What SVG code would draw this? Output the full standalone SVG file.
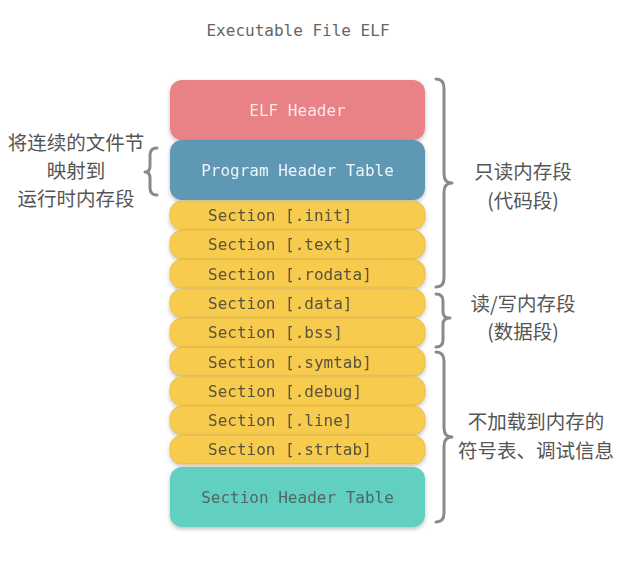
<svg xmlns="http://www.w3.org/2000/svg" width="629" height="562" viewBox="0 0 629 562">
<style>
.mono{font-family:"DejaVu Sans Mono","Liberation Mono",monospace;font-size:16px}
.cjk{font-family:"Noto Sans CJK SC","Noto Sans",sans-serif;font-size:19.5px;fill:#555;text-anchor:middle}
.sec rect{fill:#F7CB4D;stroke:#E9B73A;stroke-width:0.8}
.sec text{fill:#5a523e}
.brace{fill:none;stroke:#8a8a8a;stroke-width:3;stroke-linecap:round;stroke-linejoin:round}
</style>
<defs>
<filter id="sh" x="-10%" y="-20%" width="120%" height="150%">
<feDropShadow dx="0" dy="2" stdDeviation="2" flood-color="#000" flood-opacity="0.25"/>
</filter>
</defs>
<rect width="629" height="562" fill="#fff"/>
<text class="mono" x="298" y="36" text-anchor="middle" fill="#666">Executable File ELF</text>

<g id="elf-header" filter="url(#sh)">
<rect x="170" y="80" width="255" height="60" rx="12" fill="#E88286"/>
<text class="mono" x="297.5" y="115.5" text-anchor="middle" fill="#fbe9ea">ELF Header</text>
</g>
<g id="program-header-table" filter="url(#sh)">
<rect x="170" y="140" width="255" height="60" rx="12" fill="#5F98B5"/>
<text class="mono" x="297.5" y="175.5" text-anchor="middle" fill="#eef5f9">Program Header Table</text>
</g>
<g id="sec-init" class="sec" filter="url(#sh)">
<rect x="170" y="201" width="255" height="28.5" rx="12"/>
<text class="mono" x="208" y="221">Section [.init]</text>
</g>
<g id="sec-text" class="sec" filter="url(#sh)">
<rect x="170" y="230.3" width="255" height="28.5" rx="12"/>
<text class="mono" x="208" y="250.3">Section [.text]</text>
</g>
<g id="sec-rodata" class="sec" filter="url(#sh)">
<rect x="170" y="259.6" width="255" height="28.5" rx="12"/>
<text class="mono" x="208" y="279.6">Section [.rodata]</text>
</g>
<g id="sec-data" class="sec" filter="url(#sh)">
<rect x="170" y="288.9" width="255" height="28.5" rx="12"/>
<text class="mono" x="208" y="308.9">Section [.data]</text>
</g>
<g id="sec-bss" class="sec" filter="url(#sh)">
<rect x="170" y="318.2" width="255" height="28.5" rx="12"/>
<text class="mono" x="208" y="338.2">Section [.bss]</text>
</g>
<g id="sec-symtab" class="sec" filter="url(#sh)">
<rect x="170" y="347.5" width="255" height="28.5" rx="12"/>
<text class="mono" x="208" y="367.5">Section [.symtab]</text>
</g>
<g id="sec-debug" class="sec" filter="url(#sh)">
<rect x="170" y="376.8" width="255" height="28.5" rx="12"/>
<text class="mono" x="208" y="396.8">Section [.debug]</text>
</g>
<g id="sec-line" class="sec" filter="url(#sh)">
<rect x="170" y="406.1" width="255" height="28.5" rx="12"/>
<text class="mono" x="208" y="426.1">Section [.line]</text>
</g>
<g id="sec-strtab" class="sec" filter="url(#sh)">
<rect x="170" y="435.4" width="255" height="28.5" rx="12"/>
<text class="mono" x="208" y="455.4">Section [.strtab]</text>
</g>
<g id="section-header-table" filter="url(#sh)">
<rect x="170" y="467" width="255" height="60" rx="12" fill="#62D0C0"/>
<text class="mono" x="297.5" y="502.5" text-anchor="middle" fill="#4f6764">Section Header Table</text>
</g>

<g id="connectors">
<path class="brace" d="M157,148 Q150,148 150,155 L150,166 Q150,172 145,172 Q150,172 150,178 L150,188 Q150,195 157,195"/>
<path class="brace" d="M436,79 Q444,79 444,88 L444,174 Q444,183 452,183 Q444,183 444,192 L444,278 Q444,287 436,287"/>
<path class="brace" d="M436,294 Q443,294 443,301 L443,312 Q443,318 450,318 Q443,318 443,324 L443,340 Q443,347 436,347"/>
<path class="brace" d="M436,352 Q444,352 444,361 L444,428 Q444,437 452,437 Q444,437 444,446 L444,513 Q444,522 436,522"/>
</g>

<g id="label-left">
<text class="cjk" x="76" y="150">将连续的文件节</text>
<text class="cjk" x="76" y="178">映射到</text>
<text class="cjk" x="76" y="206">运行时内存段</text>
</g>
<g id="label-ro">
<text class="cjk" x="523" y="179">只读内存段</text>
<text class="cjk" x="523" y="208">(代码段)</text>
</g>
<g id="label-rw">
<text class="cjk" x="523" y="311">读/写内存段</text>
<text class="cjk" x="523" y="339">(数据段)</text>
</g>
<g id="label-nl">
<text class="cjk" x="536" y="429">不加载到内存的</text>
<text class="cjk" x="536" y="458">符号表、调试信息</text>
</g>
</svg>
